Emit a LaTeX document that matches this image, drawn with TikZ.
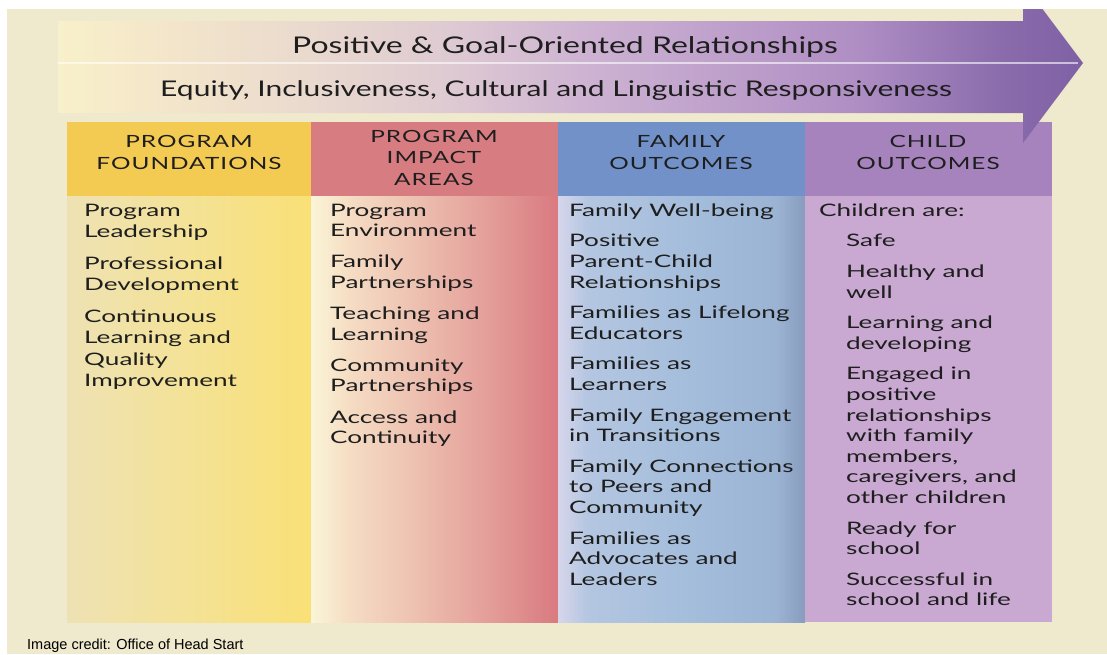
\documentclass[tikz,border=0pt]{standalone}
\usepackage{fontspec}
\setmainfont{Lato}[FakeStretch=1.52]
\newfontfamily\ttlfont{Lato}[FakeStretch=1.39]
\newfontfamily\hdfont{Lato}[FakeStretch=1.45,LetterSpace=6]
\newfontfamily\credfont{Liberation Sans}
\definecolor{bg}{RGB}{239,233,205}
\definecolor{txt}{RGB}{30,30,30}
\definecolor{h1}{RGB}{243,202,82}
\definecolor{h2}{RGB}{215,125,130}
\definecolor{h3}{RGB}{113,145,200}
\definecolor{h4}{RGB}{166,131,188}
\definecolor{b4}{RGB}{201,168,210}
\definecolor{a0}{RGB}{248,240,202}
\definecolor{a1}{RGB}{244,230,202}
\definecolor{a2}{RGB}{234,218,206}
\definecolor{a3}{RGB}{222,202,210}
\definecolor{a4}{RGB}{205,178,210}
\definecolor{a5}{RGB}{175,142,196}
\definecolor{a6}{RGB}{138,108,172}
\definecolor{a7}{RGB}{126,96,165}
\definecolor{ca0}{RGB}{238,226,180}
\definecolor{ca1}{RGB}{244,226,150}
\definecolor{ca2}{RGB}{249,224,118}
\definecolor{cb0}{RGB}{251,245,215}
\definecolor{cb1}{RGB}{245,220,195}
\definecolor{cb2}{RGB}{238,195,178}
\definecolor{cb3}{RGB}{228,160,155}
\definecolor{cb4}{RGB}{217,122,128}
\definecolor{cc0}{RGB}{214,214,235}
\definecolor{cc1}{RGB}{180,198,225}
\definecolor{cc2}{RGB}{165,190,220}
\definecolor{cc3}{RGB}{156,180,212}
\definecolor{cc4}{RGB}{136,156,190}
\pgfdeclarehorizontalshading{arrowsh}{100bp}{color(0bp)=(a0); color(25bp)=(a0); color(30bp)=(a1); color(37bp)=(a2); color(44bp)=(a3); color(51bp)=(a4); color(64bp)=(a5); color(71bp)=(a6); color(75bp)=(a7); color(100bp)=(a7)}
\pgfdeclarehorizontalshading{colash}{100bp}{color(0bp)=(ca0); color(25bp)=(ca0); color(50bp)=(ca1); color(75bp)=(ca2); color(100bp)=(ca2)}
\pgfdeclarehorizontalshading{colbsh}{100bp}{color(0bp)=(cb0); color(25bp)=(cb0); color(33bp)=(cb1); color(45bp)=(cb2); color(60bp)=(cb3); color(75bp)=(cb4); color(100bp)=(cb4)}
\pgfdeclarehorizontalshading{colcsh}{100bp}{color(0bp)=(cc0); color(25bp)=(cc0); color(31bp)=(cc1); color(50bp)=(cc2); color(69bp)=(cc3); color(75bp)=(cc4); color(100bp)=(cc4)}
\newcommand{\fst}{\rule{0pt}{14pt}}
\newcommand{\hst}{\rule{0pt}{13pt}}
\begin{document}
\begin{tikzpicture}[x=1pt,y=-1pt,
  ttl/.style={anchor=base, inner sep=0pt, text=txt, font=\ttlfont\fontsize{23}{27}\selectfont},
  ttlb/.style={anchor=base, inner sep=0pt, text=txt, font=\ttlfont\fontsize{21.6}{26}\selectfont},
  hdr/.style={anchor=north, inner sep=0pt, align=center, text=txt, font=\hdfont\fontsize{16.8}{21.6}\selectfont},
  body/.style={anchor=north west, inner sep=0pt, align=left, text=txt, font=\fontsize{17.2}{20.6}\selectfont},
  cred/.style={anchor=base west, inner sep=0pt, text=black, font=\credfont\fontsize{14.5}{16}\selectfont}]
\useasboundingbox (0,0) rectangle (1107,654);
\fill[white] (0,0) rectangle (1107,654);
\fill[bg] (7,9) rectangle (1107,654);
% column bodies
\path[shading=colash] (67,196) rectangle (311,622);
\path[shading=colbsh] (311,196) rectangle (558,622);
\path[shading=colcsh] (558,196) rectangle (805,622);
\fill[b4] (805,196) rectangle (1052,622);
% column headers
\fill[h1] (67,122) rectangle (311,196);
\fill[h2] (311,122) rectangle (558,196);
\fill[h3] (558,122) rectangle (805,196);
\fill[h4] (805,122) rectangle (1052,196);
% arrow
\path[shading=arrowsh] (58,21) -- (1023,21) -- (1023,-17) -- (1083,63) -- (1023,143) -- (1023,113) -- (58,113) -- cycle;
\draw[white, opacity=0.6, line width=1.6pt] (58,63) -- (1078,63);
\fill[white] (0,0) rectangle (1107,9);
% titles
\node[ttl] (t1) at (565,53) {Positive \& Goal-Oriented Relationships};
\node[ttlb] (t2) at (556,96.7) {Equity, Inclusiveness, Cultural and Linguistic Responsiveness};
% headers
\node[hdr] (hd1) at (189,134.5) {\hst PROGRAM\\FOUNDATIONS};
\node[hdr] (hd2) at (434,129) {\hst PROGRAM\\IMPACT\\AREAS};
\node[hdr] (hd3) at (681,134.5) {\hst FAMILY\\OUTCOMES};
\node[hdr] (hd4) at (928,134.5) {\hst CHILD\\OUTCOMES};
% bodies
\node[body, font=\fontsize{17.2}{21.3}\selectfont] (c1) at (84,202) {\fst Program\\Leadership\\[10.5pt]Professional\\Development\\[10.5pt]Continuous\\Learning and\\Quality\\Improvement};
\node[body] (c2) at (330,202) {\fst Program\\Environment\\[10.5pt]Family\\Partnerships\\[10.5pt]Teaching and\\Learning\\[10.5pt]Community\\Partnerships\\[10.5pt]Access and\\Continuity};
\node[body] (c3) at (569,202) {\fst Family Well-being\\[10pt]Positive\\Parent-Child\\Relationships\\[10pt]Families as Lifelong\\Educators\\[10pt]Families as\\Learners\\[10pt]Family Engagement\\in Transitions\\[10pt]Family Connections\\to Peers and\\Community\\[10pt]Families as\\Advocates and\\Leaders};
\node[body] (c4a) at (819,202) {\fst Children are:};
\node[body] (c4) at (846,232.7) {\fst Safe\\[10pt]Healthy and\\well\\[10pt]Learning and\\developing\\[10pt]Engaged in\\positive\\relationships\\with family\\members,\\caregivers, and\\other children\\[10pt]Ready for\\school\\[10pt]Successful in\\school and life};
\node[cred] (cr) at (27,649) {Image credit: Office of Head Start};
\end{tikzpicture}
\end{document}
